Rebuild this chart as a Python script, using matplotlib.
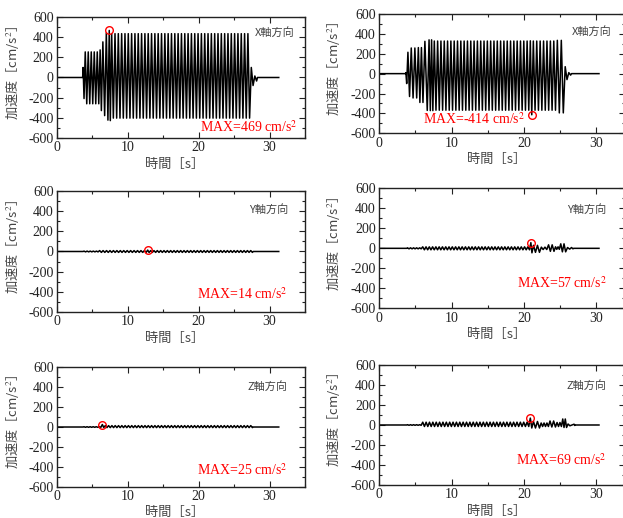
import matplotlib
matplotlib.use("Agg")
import matplotlib.pyplot as plt
from matplotlib.ticker import MultipleLocator
import numpy as np

plt.rcParams['font.family'] = ['Liberation Serif', 'Noto Sans CJK JP']
plt.rcParams['mathtext.fontset'] = 'stix'
plt.rcParams['axes.unicode_minus'] = False

# acceleration envelopes: (start [s], end [s], positive peak, negative peak) [cm/s2]
x_left = [(3.62, 3.88, 100, -210), (3.88, 6.0, 255, -262), (6.0, 6.35, 275, -330),
          (6.35, 6.85, 355, -380), (6.85, 7.3, 445, -425), (7.3, 7.6, 469, -430),
          (7.6, 27.3, 437, -405), (27.3, 27.8, 100, -80), (27.8, 28.3, 15, -35)]
x_right = [(3.62, 3.85, 10, -100), (3.85, 4.3, 215, -230), (4.3, 5.3, 258, -245),
           (5.3, 6.15, 262, -290), (6.15, 6.8, 325, -370), (6.8, 7.5, 340, -372),
           (7.5, 20.8, 328, -368), (20.8, 21.2, 330, -414), (21.2, 24.5, 328, -368),
           (24.5, 25.6, 335, -395), (25.6, 26.1, 70, -60), (26.1, 26.6, 10, -15)]
y_left = [(3.7, 5.9, 4, -4), (5.9, 12.7, 9, -9), (12.7, 13.1, 14, -10),
          (13.1, 27.7, 9, -9)]
y_right = [(3.8, 5.9, 5, -5), (5.9, 20.9, 15, -15), (20.9, 21.2, 57, -45),
           (21.2, 22.3, 30, -40), (22.3, 23.3, 12, -12), (23.3, 24.3, 35, -30),
           (24.3, 25.0, 15, -10), (25.0, 25.9, 45, -35), (25.9, 26.5, 8, -8),
           (26.5, 26.9, 8, -5)]
z_left = [(3.7, 6.3, 3, -3), (6.3, 6.7, 25, -5), (6.7, 27.7, 14, -6)]
z_right = [(3.8, 5.9, 3, -3), (5.9, 20.8, 28, -15), (20.8, 21.2, 69, -30),
           (21.2, 22.3, 35, -30), (22.3, 23.5, 20, -15), (23.5, 24.5, 40, -20),
           (24.5, 25.3, 25, -15), (25.3, 26.0, 60, -25), (26.0, 26.5, 10, -8),
           (26.9, 27.1, 8, -5)]

envelopes = [x_left, x_right, y_left, y_right, z_left, z_right]
periods = [0.47, 0.46, 0.47, 0.46, 0.47, 0.46]
record_end = [31.3, 30.4, 31.3, 30.4, 31.3, 30.4]
directions = ["X軸方向", "X軸方向", "Y軸方向", "Y軸方向", "Z軸方向", "Z軸方向"]

# panel layout (figure fractions) and text placement (axes fractions)
panel_rect = [[0.0915, 0.7342, 0.398, 0.2324], [0.6088, 0.7427, 0.3944, 0.2303],
              [0.0915, 0.3983, 0.398, 0.2324], [0.6088, 0.4048, 0.3944, 0.2316],
              [0.0915, 0.0604, 0.398, 0.2305], [0.6088, 0.0637, 0.3944, 0.2317]]
x_max = [35, 34, 35, 34, 35, 34]
dir_pos = [(0.96, 0.87), (0.947, 0.857), (0.931, 0.853),
           (0.923, 0.82), (0.931, 0.843), (0.923, 0.825)]
max_pos = [(0.968, 0.089, 'right'), (0.387, 0.12, 'center'), (0.931, 0.147, 'right'),
           (0.927, 0.211, 'right'), (0.931, 0.14, 'right'), (0.927, 0.208, 'right')]
ylab_x = [-0.141, -0.148, -0.141, -0.148, -0.141, -0.148]

jp = ['Noto Sans CJK JP', 'Liberation Serif']
ink = '#222222'
label_gray = '#444444'


def build_trace(segs, period, t_end):
    t = [0.0, segs[0][0]]
    a = [0.0, 0.0]
    for t0, t1, up, down in segs:
        n = max(1, int(round((t1 - t0) / period)))
        step = (t1 - t0) / n
        for k in range(n):
            t += [t0 + (k + 0.25) * step, t0 + (k + 0.75) * step]
            a += [up, down]
    t += [segs[-1][1], t_end]
    a += [0.0, 0.0]
    return np.array(t), np.array(a)


fig = plt.figure(figsize=(6.23, 5.18), dpi=100)

for i in range(6):
    ax = fig.add_axes(panel_rect[i])
    t, acc = build_trace(envelopes[i], periods[i], record_end[i])
    ax.plot(t, acc, color='black', lw=1.1)

    k = np.argmax(np.abs(acc))
    ax.plot(t[k], acc[k], 'o', mfc='none', mec='red', ms=5.5, mew=1.0)

    ax.set_xlim(0, x_max[i])
    ax.set_ylim(-600, 600)
    ax.xaxis.set_major_locator(MultipleLocator(10))
    ax.xaxis.set_minor_locator(MultipleLocator(5))
    ax.yaxis.set_major_locator(MultipleLocator(200))
    ax.yaxis.set_minor_locator(MultipleLocator(100))
    ax.tick_params(which='both', direction='in', top=True, right=True,
                   colors=ink, labelsize=10)
    ax.tick_params(which='major', length=4, width=0.8, pad=2.5)
    ax.tick_params(which='minor', length=2.5, width=0.8)
    for sp in ax.spines.values():
        sp.set_linewidth(1.0)
        sp.set_color(ink)

    ax.set_xlabel("時間［s］", family=jp, fontsize=9.5, color=label_gray)
    ax.xaxis.set_label_coords(0.476, -0.165)
    ax.set_ylabel("加速度［cm/s$^2$］", family=jp, fontsize=9.5, color=label_gray)
    ax.yaxis.set_label_coords(ylab_x[i], 0.54)

    dx, dy = dir_pos[i]
    ax.text(dx, dy, directions[i], transform=ax.transAxes, ha='right', va='center',
            family=jp, fontsize=8, color=label_gray)
    mx, my, mha = max_pos[i]
    ax.text(mx, my, "MAX=%d cm/s$^2$" % acc[k], transform=ax.transAxes,
            ha=mha, va='center', fontsize=10, color='red')

fig.savefig("out.png", dpi=100)
